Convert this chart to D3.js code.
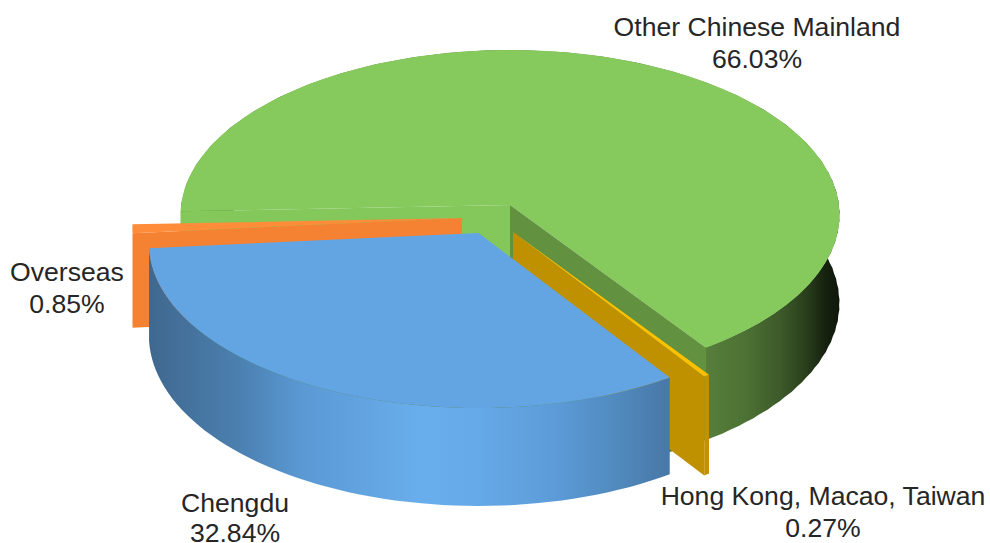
<!DOCTYPE html>
<html>
<head>
<meta charset="utf-8">
<script src="https://cdn.jsdelivr.net/npm/d3@7/dist/d3.min.js"></script>
<style>
html,body{margin:0;padding:0;background:#fff;}
svg{display:block;}
text{font-family:"Liberation Sans",Arial,sans-serif;font-size:26.6px;fill:#262626;text-anchor:middle;}
</style>
</head>
<body>
<svg id="chart" width="990" height="543"></svg>
<script>
// Shares of the source regions, in drawing order around the pie
const categories = ["Other Chinese Mainland", "Hong Kong, Macao, Taiwan", "Chengdu", "Overseas"];
const shares = [66.03, 0.27, 32.84, 0.85];

const svg = d3.select("#chart");
const rad = d => d * Math.PI / 180;

// Plane of the pie seen in perspective: unit circle to screen offsets from the apex
const tilt = 0.0606;
const sx = d3.scaleLinear().domain([-1, 1]).range([-329, 329]);
const sy = d3.scaleLinear().domain([-1, 1]).range([-164.4, 164.4]);
const project = (a, o) => {
  const w = 1 - tilt * Math.sin(a);
  return [o[0] + sx(Math.cos(a)) / w, o[1] + sy(Math.sin(a)) / w];
};
const drop = (p, a, depth) => [p[0], p[1] + depth / (1 - tilt * Math.sin(a))];

const arcs = d3.pie().sort(null).value(d => d)
  .startAngle(rad(177.8)).endAngle(rad(177.8 + 360))(shares);

const line = d3.line();
const samples = (a0, a1) => d3.range(0, 61).map(i => a0 + (a1 - a0) * i / 60);

function topFace(d, o) {
  return line([o, ...samples(d.startAngle, d.endAngle).map(a => project(a, o))]) + "Z";
}
function outerWall(a0, a1, o, depth) {
  const s = samples(a0, a1);
  const up = s.map(a => project(a, o));
  const down = s.map(a => drop(project(a, o), a, depth)).reverse();
  return line([...up, ...down]) + "Z";
}
function cutFace(a, o, depth) {
  const rim = project(a, o);
  return line([o, rim, drop(rim, a, depth), drop(o, a, depth)]) + "Z";
}

// Horizontal shading of the curved walls, in screen units
function wallGradient(id, stops) {
  const g = svg.append("defs").append("linearGradient").attr("id", id)
    .attr("gradientUnits", "userSpaceOnUse").attr("x1", 0).attr("x2", 990).attr("y1", 0).attr("y2", 0);
  stops.forEach(([x, c]) => g.append("stop").attr("offset", x / 990).attr("stop-color", c));
}
wallGradient("wallGreen", [[703, "#587f3c"], [745, "#4d7234"], [780, "#3d5a2a"], [805, "#2a401c"], [825, "#16220f"], [838, "#10180a"]]);
wallGradient("wallBlue", [[150, "#40688f"], [240, "#4b80b0"], [300, "#5a98d3"], [420, "#69aeec"], [480, "#66a9e8"], [560, "#5b9ad6"], [620, "#5089bc"], [668, "#4878a8"]]);

const [green, gold, blue, orange] = arcs;
const apexGreen = [510, 205], apexGold = [513, 232], apexBlue = [478.5, 233], apexOrange = [462, 218];
const depthGreen = 88, depthGold = 94, depthBlue = 92, depthOrange = 94;

function face(path, fill) {
  svg.append("path").attr("d", path).attr("fill", fill);
}

// Other Chinese Mainland
face(outerWall(rad(-12), green.endAngle, apexGreen, depthGreen), "url(#wallGreen)");
face(cutFace(green.startAngle, apexGreen, depthGreen), "#84c75b");
face(topFace(green, apexGreen), "#86c95d");
face(cutFace(green.endAngle, apexGreen, depthGreen), "#62913f");

// Hong Kong, Macao, Taiwan
face(outerWall(gold.startAngle, gold.endAngle, apexGold, depthGold), "#c29200");
face(cutFace(gold.endAngle, apexGold, depthGold), "#bf9000");
face(topFace(gold, apexGold), "#ffc000");

// Overseas
face(outerWall(orange.startAngle, orange.endAngle, apexOrange, depthOrange), "#f58233");
face(cutFace(orange.startAngle, apexOrange, depthOrange), "#f58233");
face(topFace(orange, apexOrange), "#ff8c38");

// Chengdu
face(outerWall(blue.startAngle, blue.endAngle, apexBlue, depthBlue), "url(#wallBlue)");
face(topFace(blue, apexBlue), "#63a5e3");

// Two-line labels: name, then share
const labelAnchors = [[757, 36, 68], [823, 505, 537], [235, 512, 542], [67, 281, 313]];
const pct = d3.format(".2f");
categories.forEach((name, i) => {
  const [x, y1, y2] = labelAnchors[i];
  svg.append("text").attr("x", x).attr("y", y1).text(name);
  svg.append("text").attr("x", x).attr("y", y2).text(pct(shares[i]) + "%");
});
</script>
</body>
</html>
